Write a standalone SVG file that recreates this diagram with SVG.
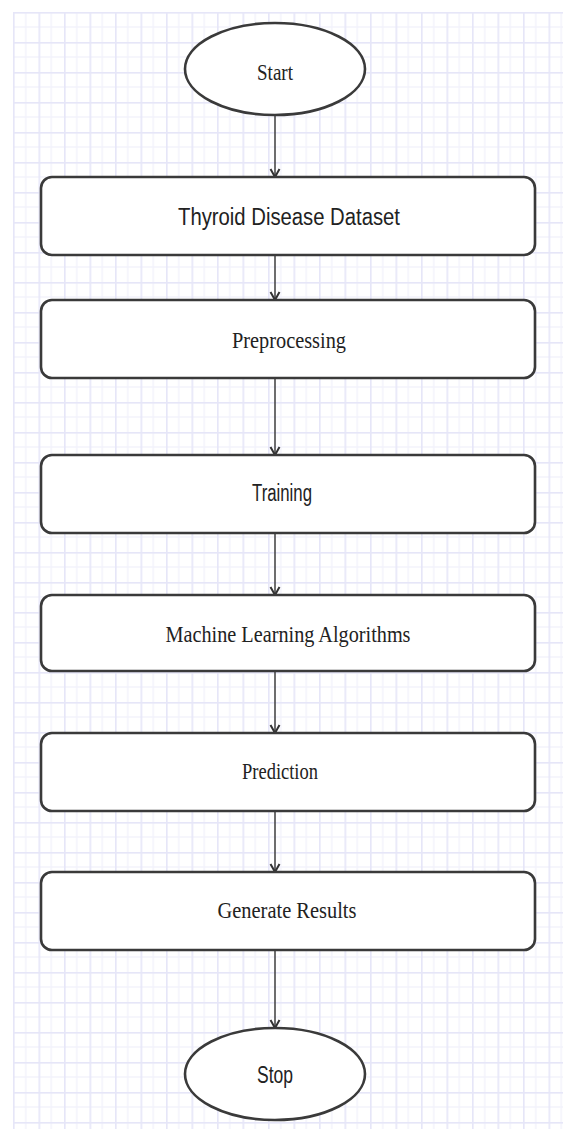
<svg xmlns="http://www.w3.org/2000/svg" width="563" height="1129" viewBox="0 0 563 1129">
  <style>
    .box { fill: #ffffff; stroke: #3a3a3a; stroke-width: 2.6; }
    .term { fill: #ffffff; stroke: #3a3a3a; stroke-width: 2.6; }
    .serif { font-family: "Liberation Serif", "Times New Roman", serif; font-size: 24px; fill: #222; }
    .sans { font-family: "Liberation Sans", Arial, sans-serif; font-size: 23px; fill: #222; }
    .edge { stroke: #4a4a4a; stroke-width: 1.6; fill: none; marker-end: url(#chev); }
  </style>
  <defs>
    <pattern id="grid" patternUnits="userSpaceOnUse" x="13" y="12" width="25.5" height="30">
      <line x1="12.75" y1="0" x2="12.75" y2="30" stroke="#f1f1fb" stroke-width="1.3"/>
      <line x1="0" y1="15" x2="25.5" y2="15" stroke="#f1f1fb" stroke-width="1.3"/>
      <line x1="0.75" y1="0" x2="0.75" y2="30" stroke="#e6e6f8" stroke-width="1.8"/>
      <line x1="0" y1="0.75" x2="25.5" y2="0.75" stroke="#e6e6f8" stroke-width="1.8"/>
    </pattern>
    <!-- open chevron head, drawn along +x so orient="auto" points it down the line -->
    <marker id="chev" markerUnits="userSpaceOnUse" markerWidth="14" markerHeight="14" refX="12" refY="7" orient="auto" viewBox="0 0 14 14">
      <path d="M4,2.5 L12,7 L4,11.5" fill="none" stroke="#333" stroke-width="2"/>
    </marker>
  </defs>

  <!-- background paper with grid -->
  <rect x="0" y="0" width="563" height="1129" fill="#ffffff"/>
  <rect x="13" y="12" width="550" height="1117" fill="url(#grid)"/>

  <!-- connectors -->
  <g id="connectors">
    <line class="edge" x1="275" y1="115" x2="275" y2="177"/>
    <line class="edge" x1="275" y1="255" x2="275" y2="300"/>
    <line class="edge" x1="275" y1="378" x2="275" y2="455"/>
    <line class="edge" x1="275" y1="533" x2="275" y2="595"/>
    <line class="edge" x1="275" y1="671" x2="275" y2="733"/>
    <line class="edge" x1="275" y1="811" x2="275" y2="872"/>
    <line class="edge" x1="275" y1="950" x2="275" y2="1028"/>
  </g>

  <g id="start">
    <ellipse class="term" cx="275" cy="69" rx="90" ry="46"/>
    <text class="serif" x="275" y="80" text-anchor="middle" textLength="36" lengthAdjust="spacingAndGlyphs">Start</text>
  </g>

  <g id="dataset">
    <rect class="box" x="41" y="177" width="494" height="78" rx="11"/>
    <text class="sans" x="289" y="225" text-anchor="middle" textLength="222" lengthAdjust="spacingAndGlyphs">Thyroid Disease Dataset</text>
  </g>

  <g id="preprocessing">
    <rect class="box" x="41" y="300" width="494" height="78" rx="11"/>
    <text class="serif" x="289" y="348" text-anchor="middle" textLength="114" lengthAdjust="spacingAndGlyphs">Preprocessing</text>
  </g>

  <g id="training">
    <rect class="box" x="41" y="455" width="494" height="78" rx="11"/>
    <text class="sans" x="282" y="501" text-anchor="middle" textLength="60" lengthAdjust="spacingAndGlyphs">Training</text>
  </g>

  <g id="algorithms">
    <rect class="box" x="41" y="595" width="494" height="76" rx="11"/>
    <text class="serif" x="288" y="642" text-anchor="middle" textLength="245" lengthAdjust="spacingAndGlyphs">Machine Learning Algorithms</text>
  </g>

  <g id="prediction">
    <rect class="box" x="41" y="733" width="494" height="78" rx="11"/>
    <text class="serif" x="280" y="779" text-anchor="middle" textLength="76" lengthAdjust="spacingAndGlyphs">Prediction</text>
  </g>

  <g id="results">
    <rect class="box" x="41" y="872" width="494" height="78" rx="11"/>
    <text class="serif" x="287" y="918" text-anchor="middle" textLength="139" lengthAdjust="spacingAndGlyphs">Generate Results</text>
  </g>

  <g id="stop">
    <ellipse class="term" cx="275" cy="1074" rx="90" ry="46"/>
    <text class="sans" x="275" y="1083" text-anchor="middle" textLength="36" lengthAdjust="spacingAndGlyphs">Stop</text>
  </g>
</svg>
